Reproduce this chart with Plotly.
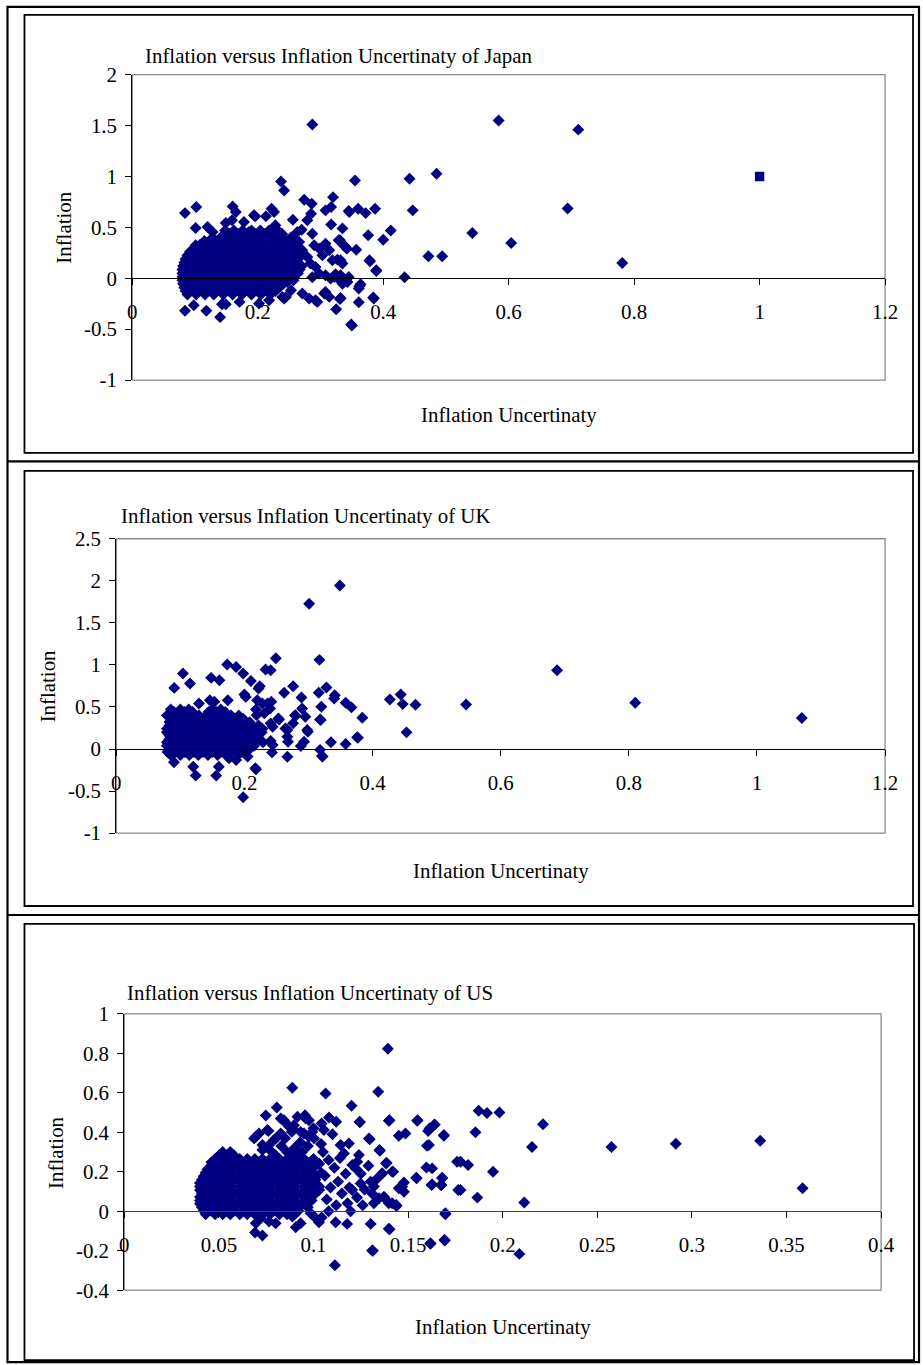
import plotly.graph_objects as go

W, H = 923, 1365
# The photographed page comes out slightly reduced and offset; these factors
# map the reference picture's pixel positions back onto page pixels.
SX, SY = 0.981, 0.9844
OX, OY = 5.5, 11.2
NAVY = "#000080"
FONT = "Liberation Serif, Times New Roman, serif"
FS = 20.9

# ---------------- Japan ----------------
japan_title = "Inflation versus Inflation Uncertinaty of Japan"
japan_xticks = [0, 0.2, 0.4, 0.6, 0.8, 1, 1.2]
japan_xtick_text = ["0", "0.2", "0.4", "0.6", "0.8", "1", "1.2"]
japan_yticks = [-1, -0.5, 0, 0.5, 1, 1.5, 2]
japan_ytick_text = ["-1", "-0.5", "0", "0.5", "1", "1.5", "2"]
japan_scatter = [
    (0.287, 1.51), (0.584, 1.55), (0.711, 1.46), (0.694, 0.686), (0.542, 0.444), (0.604, 0.346), (0.781, 0.15),
    (0.355, 0.961), (0.442, 0.977), (0.485, 1.026), (0.447, 0.667), (0.472, 0.216), (0.494, 0.216), (0.434, 0.01),
    (0.350, -0.464), (0.237, 0.951), (0.242, 0.863), (0.320, 0.797), (0.387, 0.683), (0.372, 0.640), (0.360, 0.683),
    (0.346, 0.650), (0.412, 0.47), (0.400, 0.379), (0.376, 0.422), (0.357, 0.281), (0.379, 0.167), (0.389, 0.072),
    (0.361, -0.235), (0.385, -0.199), (0.362, -0.078), (0.364, -0.059), (0.331, -0.203), (0.325, -0.304),
    (0.308, 0.667), (0.317, 0.699), (0.317, 0.529), (0.335, 0.49), (0.329, 0.373), (0.340, 0.307), (0.319, 0.176),
    (0.335, 0.144), (0.287, 0.438), (0.274, 0.771), (0.286, 0.732), (0.285, 0.634), (0.279, 0.569), (0.270, 0.477),
    (0.256, 0.575), (0.222, 0.683), (0.226, 0.65), (0.213, 0.608), (0.228, 0.52), (0.160, 0.706), (0.165, 0.65),
    (0.102, 0.699), (0.084, 0.640), (0.101, 0.493), (0.120, 0.503), (0.128, 0.454), (0.149, 0.542), (0.159, 0.569),
    (0.178, 0.552), (0.186, 0.454), (0.194, 0.618), (0.196, 0.608), (0.101, 0.324), (0.099, 0.275), (0.123, 0.307),
    (0.138, 0.373), (0.084, -0.32), (0.098, -0.265), (0.118, -0.32), (0.140, -0.382), (0.143, -0.255),
    (0.149, -0.255), (0.171, -0.232), (0.202, -0.248), (0.218, -0.216), (0.239, -0.183), (0.242, -0.199),
    (0.253, -0.118), (0.282, -0.199), (0.295, -0.232), (0.287, 0.01), (0.324, 0.039), (0.306, -0.15),
    (0.335, -0.055), (0.345, 0.66), (0.331, 0.373), (0.337, 0.324), (0.342, 0.291), (0.308, 0.34), (0.314, 0.275),
    (0.298, 0.291), (0.29, 0.324), (0.303, 0.225), (0.327, 0.183), (0.332, 0.176), (0.378, 0.176), (0.389, 0.078),
    (0.263, 0.454), (0.258, 0.389), (0.266, 0.356), (0.271, 0.275), (0.267, 0.209), (0.26, 0.144), (0.279, 0.209),
    (0.284, 0.144), (0.292, 0.111), (0.298, 0.046), (0.308, 0.029), (0.322, 0.013), (0.332, 0.029), (0.345, 0.013),
    (0.343, -0.036), (0.331, -0.02), (0.316, -0.003), (0.361, -0.101), (0.384, -0.19), (0.332, -0.193),
    (0.308, -0.134), (0.314, -0.183), (0.292, -0.216), (0.271, -0.15), (0.245, -0.183), (0.255, 0.013),
    (0.247, -0.036), (0.258, 0.046), (0.349, -0.454),
]
japan_blob_rows = [
    (0.47, [0.148, 0.162, 0.176, 0.19, 0.204, 0.218, 0.232]),
    (0.435, [0.155, 0.169, 0.183, 0.197, 0.211, 0.225, 0.239]),
    (0.40, [0.128, 0.141, 0.155, 0.169, 0.183, 0.197, 0.211, 0.225, 0.239, 0.253]),
    (0.365, [0.115, 0.128, 0.141, 0.155, 0.169, 0.183, 0.197, 0.211, 0.225, 0.239, 0.253]),
    (0.33, [0.108, 0.121, 0.134, 0.148, 0.162, 0.176, 0.19, 0.204, 0.218, 0.232, 0.246, 0.26]),
    (0.295, [0.1, 0.114, 0.127, 0.141, 0.155, 0.169, 0.183, 0.197, 0.211, 0.225, 0.239, 0.253, 0.266]),
    (0.26, [0.092, 0.105, 0.118, 0.131, 0.145, 0.159, 0.173, 0.187, 0.201, 0.215, 0.229, 0.243, 0.257, 0.27]),
    (0.225, [0.088, 0.101, 0.114, 0.127, 0.141, 0.155, 0.169, 0.183, 0.197, 0.211, 0.225, 0.239, 0.253, 0.267]),
    (0.19, [0.085, 0.098, 0.111, 0.124, 0.138, 0.152, 0.166, 0.18, 0.194, 0.208, 0.222, 0.236, 0.25, 0.264]),
    (0.155, [0.083, 0.094, 0.107, 0.12, 0.134, 0.148, 0.162, 0.176, 0.19, 0.204, 0.218, 0.232, 0.246, 0.26]),
    (0.12, [0.081, 0.092, 0.105, 0.118, 0.131, 0.145, 0.159, 0.173, 0.187, 0.201, 0.215, 0.229, 0.243, 0.257, 0.27]),
    (0.085, [0.08, 0.088, 0.1, 0.113, 0.127, 0.141, 0.155, 0.169, 0.183, 0.197, 0.211, 0.225, 0.239, 0.253, 0.267]),
    (0.05, [0.08, 0.086, 0.098, 0.111, 0.124, 0.138, 0.152, 0.166, 0.18, 0.194, 0.208, 0.222, 0.236, 0.25, 0.264]),
    (0.015, [0.08, 0.09, 0.102, 0.115, 0.128, 0.142, 0.156, 0.17, 0.184, 0.198, 0.212, 0.226, 0.24, 0.254]),
    (-0.02, [0.08, 0.092, 0.105, 0.118, 0.131, 0.145, 0.159, 0.173, 0.187, 0.201, 0.215, 0.229, 0.243, 0.257]),
    (-0.055, [0.081, 0.09, 0.103, 0.116, 0.129, 0.143, 0.157, 0.171, 0.185, 0.199, 0.213, 0.227, 0.241]),
    (-0.09, [0.083, 0.096, 0.109, 0.122, 0.136, 0.15, 0.164, 0.178, 0.192, 0.206, 0.22, 0.234]),
    (-0.125, [0.085, 0.099, 0.113, 0.127, 0.141, 0.155, 0.17, 0.185, 0.2, 0.215, 0.228]),
    (-0.16, [0.088, 0.102, 0.116, 0.13, 0.145, 0.16, 0.175, 0.19, 0.205, 0.22]),
]
japan_square = [(1.0, 1.0)]

# ---------------- UK ----------------
uk_title = "Inflation versus Inflation Uncertinaty of UK"
uk_xticks = [0, 0.2, 0.4, 0.6, 0.8, 1, 1.2]
uk_xtick_text = ["0", "0.2", "0.4", "0.6", "0.8", "1", "1.2"]
uk_yticks = [-1, -0.5, 0, 0.5, 1, 1.5, 2, 2.5]
uk_ytick_text = ["-1", "-0.5", "0", "0.5", "1", "1.5", "2", "2.5"]
uk_scatter = [
    (0.688, 0.937), (0.546, 0.53), (0.810, 0.549), (1.070, 0.368), (0.349, 1.945), (0.301, 1.728), (0.317, 1.06),
    (0.249, 1.08), (0.233, 0.945), (0.241, 0.937), (0.173, 1.005), (0.187, 0.976), (0.198, 0.898), (0.21, 0.81),
    (0.224, 0.747), (0.222, 0.72), (0.276, 0.747), (0.262, 0.668), (0.289, 0.613), (0.316, 0.668), (0.328, 0.732),
    (0.341, 0.64), (0.34, 0.6), (0.358, 0.55), (0.367, 0.495), (0.384, 0.371), (0.376, 0.139), (0.358, 0.06),
    (0.335, 0.08), (0.318, 0.352), (0.32, 0.502), (0.427, 0.59), (0.444, 0.649), (0.447, 0.534), (0.467, 0.526),
    (0.453, 0.198), (0.318, -0.01), (0.322, -0.09), (0.198, -0.573), (0.218, -0.241), (0.267, -0.091),
    (0.293, 0.087), (0.299, 0.205), (0.295, 0.383), (0.29, 0.483), (0.279, 0.403), (0.276, 0.305), (0.267, 0.225),
    (0.268, 0.087), (0.254, 0.352), (0.244, 0.265), (0.241, 0.305), (0.236, 0.542), (0.242, 0.561), (0.231, 0.424),
    (0.220, 0.581), (0.202, 0.62), (0.218, 0.471), (0.219, 0.403), (0.0904, 0.727), (0.104, 0.898), (0.115, 0.779),
    (0.148, 0.846), (0.161, 0.818), (0.129, 0.542), (0.146, 0.581), (0.153, 0.561), (0.174, 0.581), (0.2, 0.649),
    (0.09, -0.158), (0.12, -0.21), (0.124, -0.316), (0.156, -0.316), (0.16, -0.21), (0.176, -0.111), (0.187, -0.13),
    (0.205, -0.09), (0.217, -0.229), (0.243, -0.04), (0.288, 0.036), (0.321, -0.083), (0.377, 0.134),
    (0.264, 0.245), (0.267, 0.146), (0.253, 0.364), (0.228, 0.542), (0.24, 0.483), (0.244, 0.047), (0.241, 0.095),
    (0.319, 0.344), (0.28, 0.395), (0.298, 0.225),
]
uk_blob_rows = [
    (0.47, [0.085, 0.1, 0.113, 0.15, 0.163]),
    (0.44, [0.09, 0.106, 0.119, 0.144, 0.157, 0.17]),
    (0.40, [0.079, 0.091, 0.104, 0.116, 0.129, 0.141, 0.154, 0.166, 0.179, 0.191]),
    (0.36, [0.085, 0.098, 0.11, 0.123, 0.135, 0.148, 0.16, 0.173, 0.185, 0.198]),
    (0.32, [0.083, 0.096, 0.108, 0.121, 0.133, 0.146, 0.158, 0.171, 0.183, 0.196, 0.208]),
    (0.28, [0.083, 0.097, 0.11, 0.122, 0.135, 0.147, 0.16, 0.172, 0.185, 0.197, 0.21, 0.222]),
    (0.24, [0.079, 0.091, 0.104, 0.116, 0.129, 0.141, 0.154, 0.166, 0.179, 0.191, 0.204, 0.216, 0.228]),
    (0.20, [0.079, 0.09, 0.102, 0.115, 0.127, 0.14, 0.152, 0.165, 0.177, 0.19, 0.202, 0.215, 0.227]),
    (0.16, [0.083, 0.096, 0.108, 0.121, 0.133, 0.146, 0.158, 0.171, 0.183, 0.196, 0.208, 0.221]),
    (0.12, [0.083, 0.097, 0.11, 0.122, 0.135, 0.147, 0.16, 0.172, 0.185, 0.197, 0.21, 0.222]),
    (0.08, [0.079, 0.091, 0.104, 0.116, 0.129, 0.141, 0.154, 0.166, 0.179, 0.191, 0.204, 0.216, 0.229]),
    (0.04, [0.079, 0.09, 0.102, 0.115, 0.127, 0.14, 0.152, 0.165, 0.177, 0.19, 0.202, 0.215]),
    (0.00, [0.083, 0.096, 0.108, 0.121, 0.133, 0.146, 0.158, 0.171, 0.183, 0.196, 0.208]),
    (-0.035, [0.08, 0.092, 0.107, 0.121, 0.135, 0.15, 0.165, 0.18, 0.197]),
    (-0.07, [0.085, 0.1, 0.114, 0.128, 0.143, 0.158, 0.172, 0.19]),
]

# ---------------- US ----------------
us_title = "Inflation versus Inflation Uncertinaty of US"
us_xticks = [0, 0.05, 0.1, 0.15, 0.2, 0.25, 0.3, 0.35, 0.4]
us_xtick_text = ["0", "0.05", "0.1", "0.15", "0.2", "0.25", "0.3", "0.35", "0.4"]
us_yticks = [-0.4, -0.2, 0, 0.2, 0.4, 0.6, 0.8, 1]
us_ytick_text = ["-0.4", "-0.2", "0", "0.2", "0.4", "0.6", "0.8", "1"]
us_scatter = [
    (0.1873, 0.509), (0.1917, 0.498), (0.1983, 0.5), (0.1856, 0.40), (0.2213, 0.441), (0.2155, 0.325),
    (0.2575, 0.325), (0.2915, 0.342), (0.3361, 0.357), (0.3585, 0.116), (0.1777, 0.251), (0.1817, 0.234),
    (0.1949, 0.2), (0.1777, 0.108), (0.1866, 0.069), (0.2114, 0.044), (0.2088, -0.216), (0.1064, 0.596),
    (0.1342, 0.605), (0.1201, 0.534), (0.1244, 0.453), (0.1082, 0.475), (0.112, 0.453), (0.1402, 0.461),
    (0.155, 0.461), (0.1613, 0.419), (0.1641, 0.439), (0.1451, 0.382), (0.1486, 0.394), (0.1689, 0.382),
    (0.1293, 0.369), (0.16, 0.332), (0.1349, 0.31), (0.1384, 0.242), (0.1416, 0.2), (0.136, 0.187),
    (0.1597, 0.221), (0.1543, 0.17), (0.168, 0.167), (0.1674, 0.133), (0.1627, 0.136), (0.1478, 0.146),
    (0.1469, 0.125), (0.1478, 0.099), (0.1451, 0.116), (0.1437, 0.032), (0.1416, 0.04), (0.1377, 0.066),
    (0.1697, -0.01), (0.1692, -0.145), (0.1618, -0.162), (0.1398, -0.089), (0.131, -0.199), (0.1302, -0.064),
    (0.1178, -0.064), (0.1117, -0.056), (0.1113, -0.274), (0.1346, 0.066), (0.1319, 0.125), (0.1302, 0.15),
    (0.1319, 0.04), (0.1196, 0.0), (0.1205, 0.108), (0.1249, 0.141), (0.124, 0.285), (0.1223, 0.217),
    (0.1231, 0.251), (0.1205, 0.234), (0.1187, 0.343), (0.1143, 0.335), (0.1161, 0.293), (0.1393, 0.823),
    (0.0888, 0.625), (0.0806, 0.525), (0.0748, 0.485), (0.0827, 0.47), (0.085, 0.451), (0.0915, 0.478),
    (0.0955, 0.486), (0.0976, 0.461), (0.0897, 0.436), (0.0885, 0.402), (0.0871, 0.428), (0.0762, 0.406),
    (0.0712, 0.394), (0.0686, 0.369), (0.1245, 0.451), (0.1043, 0.444), (0.1055, 0.411), (0.095, 0.394),
    (0.0976, 0.377), (0.1003, 0.369), (0.1297, 0.364), (0.1351, 0.306), (0.1386, 0.246), (0.1421, 0.2),
    (0.1363, 0.192), (0.1372, 0.074), (0.1398, 0.04), (0.1439, 0.027), (0.1402, -0.091), (0.1314, -0.2),
    (0.1029, -0.056), (0.1043, -0.032), (0.1003, -0.027), (0.0985, -0.01), (0.0888, -0.027), (0.0906, -0.081),
    (0.0932, -0.061), (0.08, -0.061), (0.0765, -0.052), (0.0721, -0.035), (0.0695, -0.061), (0.073, -0.123),
    (0.0691, -0.108), (0.1627, 0.217), (0.161, 0.335), (0.1606, 0.406), (0.1636, 0.436), (0.1689, 0.386),
    (0.1624, 0.133), (0.1676, 0.133), (0.168, 0.17), (0.1697, -0.015), (0.1694, -0.148), (0.1618, -0.165),
    (0.1759, 0.251), (0.1765, 0.108), (0.1548, 0.458), (0.1545, 0.167), (0.1398, 0.458),
    (0.0844, 0.461), (0.0888, 0.419), (0.0932, 0.402), (0.0959, 0.47), (0.0994, 0.402), (0.0827, 0.394),
    (0.0756, 0.411), (0.0695, 0.377), (0.073, 0.335), (0.08, 0.369),
    (0.105, 0.3), (0.108, 0.26), (0.111, 0.22), (0.106, 0.18), (0.113, 0.15), (0.109, 0.12), (0.115, 0.09),
    (0.107, 0.06), (0.112, 0.03), (0.108, 0.0), (0.117, 0.19), (0.119, 0.12), (0.118, 0.04), (0.123, 0.07),
    (0.125, 0.19), (0.127, 0.11), (0.126, 0.03), (0.129, 0.23), (0.133, 0.16), (0.131, 0.09), (0.104, 0.34),
    (0.1, 0.42), (0.103, 0.24), (0.114, 0.27), (0.11, 0.39), (0.093, 0.35), (0.085, 0.37), (0.079, 0.36),
    (0.083, 0.33), (0.09, 0.32), (0.097, 0.33), (0.076, 0.33), (0.073, 0.31),
]
us_blob_rows = [
    (0.30, [0.052, 0.056, 0.078, 0.086, 0.094]),
    (0.2825, [0.05, 0.054, 0.058, 0.08, 0.088, 0.092]),
    (0.265, [0.048, 0.052, 0.056, 0.061, 0.065, 0.069, 0.073, 0.077, 0.082, 0.086, 0.09, 0.095, 0.1]),
    (0.2475, [0.046, 0.05, 0.054, 0.058, 0.063, 0.067, 0.071, 0.075, 0.079, 0.084, 0.088, 0.092, 0.097]),
    (0.23, [0.046, 0.05, 0.054, 0.058, 0.063, 0.067, 0.071, 0.075, 0.079, 0.084, 0.088, 0.092, 0.097, 0.101]),
    (0.2125, [0.044, 0.048, 0.052, 0.056, 0.061, 0.065, 0.069, 0.073, 0.077, 0.082, 0.086, 0.09, 0.095, 0.099]),
    (0.195, [0.043, 0.048, 0.052, 0.056, 0.061, 0.065, 0.069, 0.073, 0.077, 0.082, 0.086, 0.09, 0.095, 0.099, 0.104]),
    (0.1775, [0.042, 0.046, 0.05, 0.054, 0.058, 0.063, 0.067, 0.071, 0.075, 0.079, 0.084, 0.088, 0.092, 0.097, 0.101]),
    (0.16, [0.041, 0.046, 0.05, 0.054, 0.058, 0.063, 0.067, 0.071, 0.075, 0.079, 0.084, 0.088, 0.092, 0.097, 0.101]),
    (0.1425, [0.04, 0.044, 0.048, 0.052, 0.056, 0.061, 0.065, 0.069, 0.073, 0.077, 0.082, 0.086, 0.09, 0.095, 0.099]),
    (0.125, [0.04, 0.043, 0.048, 0.052, 0.056, 0.061, 0.065, 0.069, 0.073, 0.077, 0.082, 0.086, 0.09, 0.095, 0.099, 0.103]),
    (0.1075, [0.04, 0.044, 0.048, 0.052, 0.056, 0.061, 0.065, 0.069, 0.073, 0.077, 0.082, 0.086, 0.09, 0.095, 0.099, 0.103]),
    (0.09, [0.041, 0.046, 0.05, 0.054, 0.058, 0.063, 0.067, 0.071, 0.075, 0.079, 0.084, 0.088, 0.092, 0.097, 0.101]),
    (0.0725, [0.04, 0.044, 0.048, 0.052, 0.056, 0.061, 0.065, 0.069, 0.073, 0.077, 0.082, 0.086, 0.09, 0.095, 0.099]),
    (0.055, [0.04, 0.043, 0.048, 0.052, 0.056, 0.061, 0.065, 0.069, 0.073, 0.077, 0.082, 0.086, 0.09, 0.095, 0.099]),
    (0.0375, [0.04, 0.044, 0.048, 0.052, 0.056, 0.061, 0.065, 0.069, 0.073, 0.077, 0.082, 0.086, 0.09, 0.095]),
    (0.02, [0.041, 0.046, 0.05, 0.054, 0.058, 0.063, 0.067, 0.071, 0.075, 0.079, 0.084, 0.088, 0.092, 0.097]),
    (0.0025, [0.042, 0.046, 0.05, 0.054, 0.058, 0.063, 0.067, 0.071, 0.075, 0.079, 0.084, 0.088, 0.092]),
    (-0.015, [0.043, 0.048, 0.052, 0.056, 0.061, 0.065, 0.069, 0.073, 0.077, 0.082, 0.086, 0.09]),
]

x_title = "Inflation Uncertinaty"
y_title = "Inflation"

# ---------------- layout geometry (reference-picture pixels) ----------------
panels = [
    dict(title=japan_title, scatter=japan_scatter, rows=japan_blob_rows, square=japan_square,
         xr=[0, 1.2], yr=[-1, 2], xt=(japan_xticks, japan_xtick_text), yt=(japan_yticks, japan_ytick_text),
         box=(133, 887, 74, 380), title_pos=(144, 55.5), xt_pos=(510, 415.5), yt_pos=(65, 227),
         axis_color="#000000"),
    dict(title=uk_title, scatter=uk_scatter, rows=uk_blob_rows, square=[],
         xr=[0, 1.2], yr=[-1, 2.5], xt=(uk_xticks, uk_xtick_text), yt=(uk_yticks, uk_ytick_text),
         box=(117, 887, 539, 834), title_pos=(120, 516.5), xt_pos=(502.5, 871.5), yt_pos=(49.5, 687),
         axis_color="#000000"),
    dict(title=us_title, scatter=us_scatter, rows=us_blob_rows, square=[],
         xr=[0, 0.4], yr=[-0.4, 1], xt=(us_xticks, us_xtick_text), yt=(us_yticks, us_ytick_text),
         box=(125, 883, 1015, 1292), title_pos=(126, 994), xt_pos=(504, 1329), yt_pos=(57, 1154),
         axis_color="#444444"),
]


def px_x(v):
    return ((v - OX) / SX) / W


def px_y(v):
    return 1 - ((v - OY) / SY) / H


fig = go.Figure()
annotations = []
shapes = []

for i, p in enumerate(panels, start=1):
    sfx = "" if i == 1 else str(i)
    xa, ya = "x" + sfx, "y" + sfx
    l, r, t, b = p["box"]
    ymin, ymax = p["yr"]
    zero_py = t + (ymax - 0) / (ymax - ymin) * (b - t)

    xs = [pt[0] for pt in p["scatter"]] + [x for (yy, row) in p["rows"] for x in row]
    ys = [pt[1] for pt in p["scatter"]] + [yy for (yy, row) in p["rows"] for _ in row]
    fig.add_trace(go.Scatter(x=xs, y=ys, mode="markers", xaxis=xa, yaxis=ya, showlegend=False,
                             marker=dict(symbol="diamond", size=9.2, color=NAVY, line=dict(width=0))))
    if p["square"]:
        fig.add_trace(go.Scatter(x=[q[0] for q in p["square"]], y=[q[1] for q in p["square"]],
                                 mode="markers", xaxis=xa, yaxis=ya, showlegend=False,
                                 marker=dict(symbol="square", size=9.4, color=NAVY, line=dict(width=0))))

    fig.update_layout(**{
        "xaxis" + sfx: dict(domain=[px_x(l), px_x(r)], range=p["xr"], anchor="free", position=px_y(zero_py),
                            showgrid=False, zeroline=False, showline=True, linecolor=p["axis_color"], linewidth=1.2,
                            ticks="outside", ticklen=6, tickwidth=1, tickcolor="#000000",
                            tickvals=p["xt"][0], ticktext=p["xt"][1], ticklabelstandoff=9,
                            tickfont=dict(family=FONT, size=FS, color="#000000"), fixedrange=True),
        "yaxis" + sfx: dict(domain=[px_y(b), px_y(t)], range=p["yr"], anchor=xa,
                            showgrid=False, zeroline=False, showline=True, linecolor="#000000", linewidth=1.2,
                            ticks="outside", ticklen=6, tickwidth=1, tickcolor="#000000",
                            tickvals=p["yt"][0], ticktext=p["yt"][1], ticklabelstandoff=4,
                            tickfont=dict(family=FONT, size=FS, color="#000000"), fixedrange=True),
    })
    shapes.append(dict(type="rect", xref=xa + " domain", yref=ya + " domain", x0=0, x1=1, y0=0, y1=1,
                       line=dict(color="#8c8c8c", width=1.3), layer="below"))
    annotations.append(dict(text=p["title"], x=px_x(p["title_pos"][0]), y=px_y(p["title_pos"][1]),
                            xref="paper", yref="paper", xanchor="left", yanchor="middle", showarrow=False,
                            font=dict(family=FONT, size=FS, color="#000000")))
    annotations.append(dict(text=x_title, x=px_x(p["xt_pos"][0]), y=px_y(p["xt_pos"][1]),
                            xref="paper", yref="paper", xanchor="center", yanchor="middle", showarrow=False,
                            font=dict(family=FONT, size=FS, color="#000000")))
    annotations.append(dict(text=y_title, x=px_x(p["yt_pos"][0]), y=px_y(p["yt_pos"][1]), textangle=-90,
                            xref="paper", yref="paper", xanchor="center", yanchor="middle", showarrow=False,
                            font=dict(family=FONT, size=FS, color="#000000")))

# chart-area borders
chart_boxes = [(25, 915, 14, 453), (25, 915, 471, 907), (25, 916, 925, 1362)]
for (l, r, t, b) in chart_boxes:
    shapes.append(dict(type="rect", xref="paper", yref="paper", x0=px_x(l), x1=px_x(r), y0=px_y(b), y1=px_y(t),
                       line=dict(color="#000000", width=1.8)))
# table frame and its two row dividers
frame_l, frame_r, frame_t, frame_b = 8, 921, 6, 1364
shapes.append(dict(type="rect", xref="paper", yref="paper", x0=px_x(frame_l), x1=px_x(frame_r),
                   y0=px_y(frame_b), y1=px_y(frame_t), line=dict(color="#000000", width=2.2)))
for yy in (461.5, 916):
    shapes.append(dict(type="line", xref="paper", yref="paper", x0=px_x(frame_l), x1=px_x(frame_r),
                       y0=px_y(yy), y1=px_y(yy), line=dict(color="#000000", width=2.2)))

fig.update_layout(width=W, height=H, margin=dict(l=0, r=0, t=0, b=0, pad=0),
                  paper_bgcolor="white", plot_bgcolor="white",
                  annotations=annotations, shapes=shapes, showlegend=False,
                  font=dict(family=FONT, size=FS, color="#000000"))

fig.write_html("out.html", config={"displayModeBar": False},
               post_script="document.body.style.margin='0';document.body.style.padding='0';")
